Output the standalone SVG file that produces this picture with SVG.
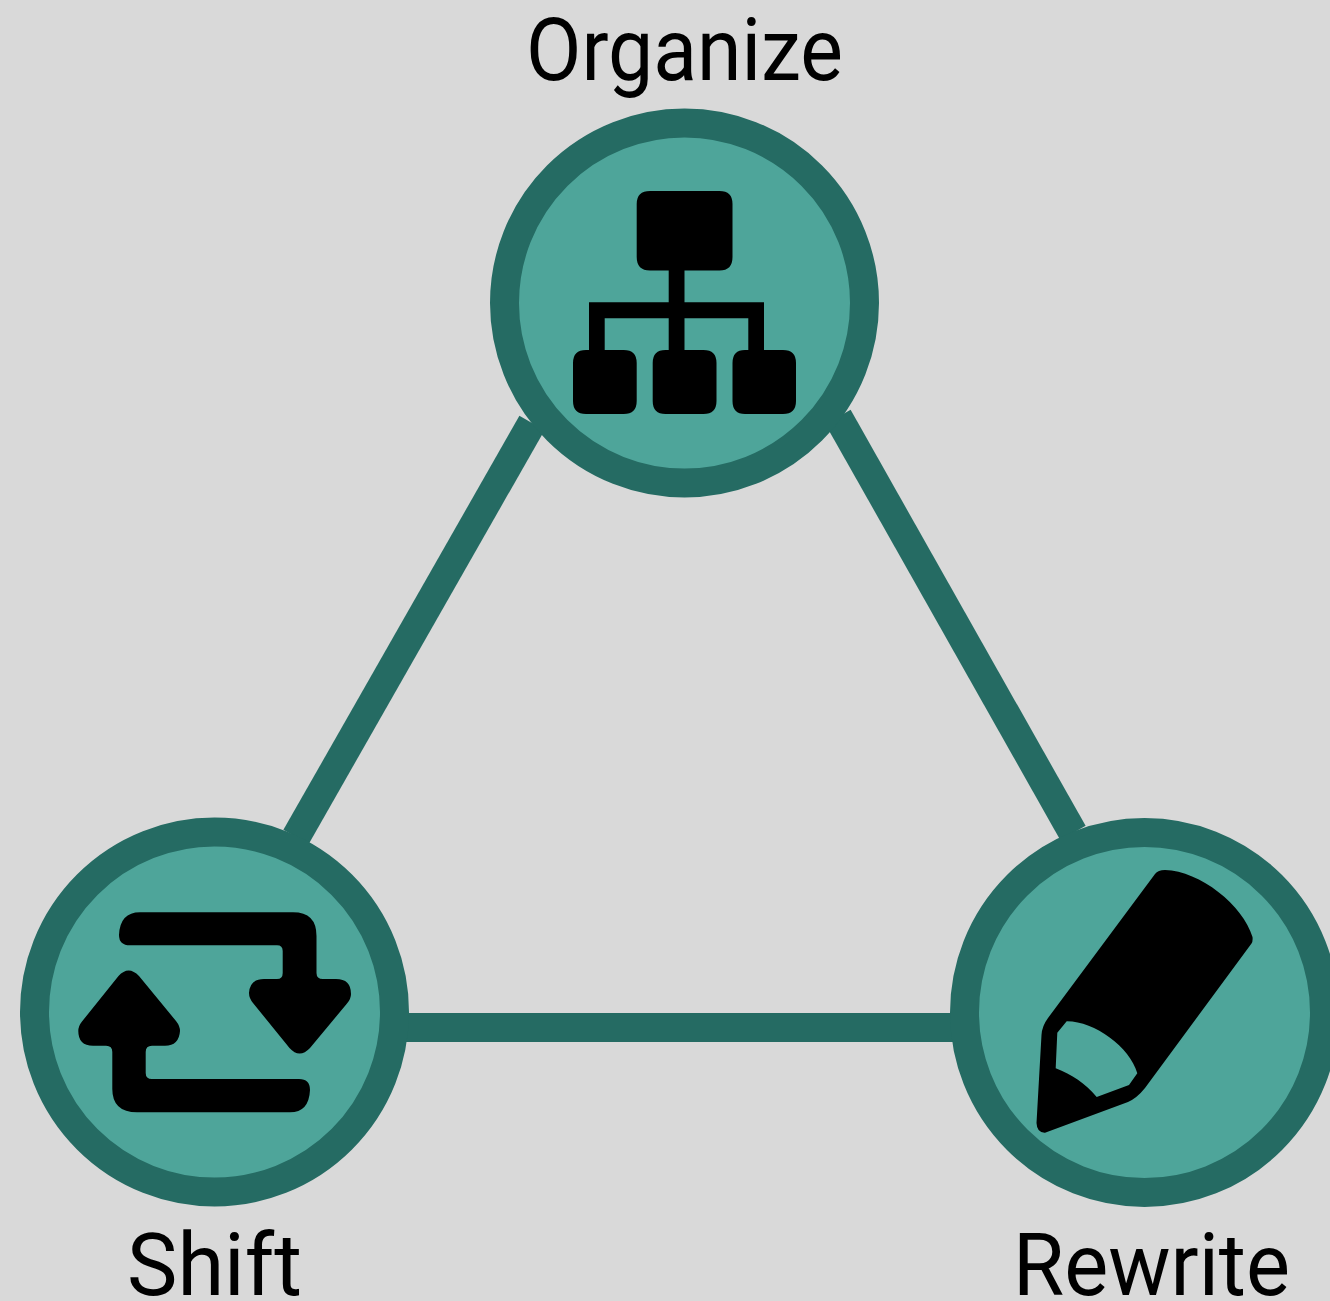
<svg xmlns="http://www.w3.org/2000/svg" width="1330" height="1301" viewBox="0 0 1330 1301">
<style>
.disc{fill:#4ea59a;stroke:#256b63;stroke-width:29}
.link{stroke:#256b63;stroke-width:29;fill:none}
.label{font-family:"Liberation Sans Narrow","Roboto","Liberation Sans",sans-serif;font-size:88px;fill:#000;lengthAdjust:spacingAndGlyphs}
</style>
<rect width="1330" height="1301" fill="#d9d9d9"/>
<g id="connectors">
<line class="link" x1="684.5" y1="157" x2="214.5" y2="1000" stroke-opacity="0"/>
<line class="link" x1="532" y1="423" x2="296" y2="837"/>
<line class="link" x1="838" y1="417" x2="1073" y2="833"/>
<line class="link" x1="395" y1="1027.5" x2="965" y2="1027.5"/>
</g>
<g id="organize">
<circle class="disc" cx="684.5" cy="303" r="180"/>
<path d="M650 191H719.500Q732.500 191 732.500 204V257Q732.500 270.500 719.500 270.500H684.500V302.300H764V350H783Q796 350 796 363V401Q796 414 783 414H745Q732.500 414 732.500 401V363Q732.500 350 745 350H748.300V318.300H684.500V350H703.500Q716.500 350 716.500 363V401Q716.500 414 703.500 414H665.500Q652.700 414 652.700 401V363Q652.700 350 665.500 350H668.700V318.300H604.700V350H623.700Q636.700 350 636.700 363V401Q636.700 414 623.700 414H586Q573 414 573 401V363Q573 350 586 350H589V302.300H668.700V270.500H650Q636.700 270.500 636.700 257V204Q636.700 191 650 191Z" fill="#000"/>
<text class="label" x="526" y="80" textLength="317" lengthAdjust="spacingAndGlyphs">Organize</text>
</g>
<g id="shift">
<circle class="disc" cx="214.500" cy="1012" r="180"/>
<path d="M140 912.300H293Q316.500 912.300 316.500 936V973Q316.500 979 323 979H336Q351 979 351 994Q351 999 347 1003.500L310 1048Q299.500 1059 289.500 1048L253 1003Q249 998 249 993Q250 979 264 979H277Q282.700 979 282.700 973V951Q282.700 945.300 277 945.300H130Q119 945.300 119 935Q120 912.300 140 912.300Z" fill="#000"/>
<path d="M290 1112.300H137Q112.300 1112.300 112.300 1089V1052Q112.300 1045.700 106 1045.700H93Q78.300 1045.700 78.300 1031Q78.300 1026 82 1021.500L118.500 976Q128.500 965 139 976L176 1021Q180 1026 180 1031Q179 1045.700 165 1045.700H152Q145.700 1045.700 145.700 1052V1073Q145.700 1079 152 1079H299Q310 1079 310 1090Q309 1112.300 290 1112.300Z" fill="#000"/>
<text class="label" x="127" y="1295" textLength="175" lengthAdjust="spacingAndGlyphs">Shift</text>
</g>
<g id="rewrite">
<circle class="disc" cx="1144.500" cy="1012.500" r="180"/>
<path fill-rule="evenodd" fill="#000" d="M1155 874Q1158 870 1165 870C1200 871 1243 905 1252.500 937Q1253 941 1251.500 943.500L1145 1088Q1137 1098 1128 1102L1045 1132.700Q1037 1133 1036.500 1123L1041.500 1035Q1042 1026 1048 1018ZM1066.700 1021.300C1094 1021 1130 1047 1137.300 1073.300L1129 1085L1096.700 1097C1085 1083 1072 1075 1055.700 1068.300L1057.300 1032.700Z"/>
<text class="label" x="1013" y="1295" textLength="277" lengthAdjust="spacingAndGlyphs">Rewrite</text>
</g>
</svg>
